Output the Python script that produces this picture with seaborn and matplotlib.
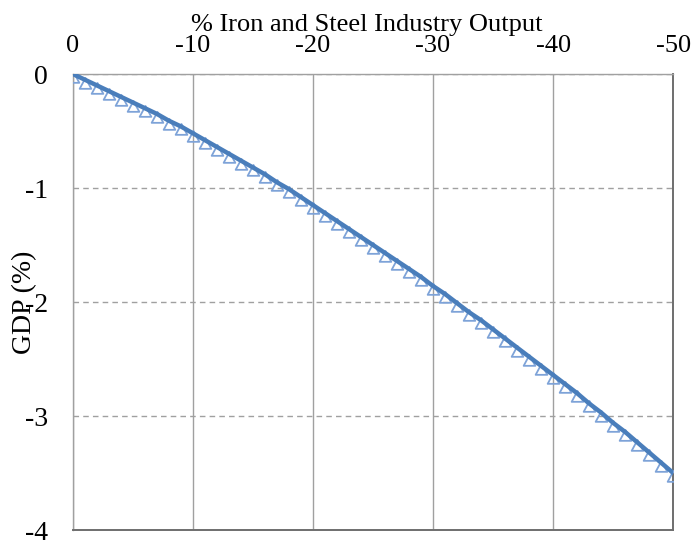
import matplotlib
matplotlib.use("Agg")
import matplotlib.pyplot as plt
from matplotlib.path import Path
import seaborn as sns
import pandas as pd

# Change in iron and steel industry output (%), one point per unit
output_change = [-i for i in range(51)]

# GDP change (%)
gdp_change = [
    0.00, -0.05, -0.10, -0.15, -0.20, -0.25, -0.30, -0.35, -0.41, -0.46,
    -0.52, -0.58, -0.64, -0.70, -0.76, -0.82, -0.88, -0.95, -1.01, -1.08,
    -1.15, -1.22, -1.29, -1.36, -1.43, -1.50, -1.57, -1.64, -1.71, -1.78,
    -1.86, -1.93, -2.01, -2.09, -2.16, -2.24, -2.32, -2.40, -2.48, -2.56,
    -2.64, -2.72, -2.80, -2.89, -2.97, -3.06, -3.14, -3.23, -3.32, -3.41,
    -3.50,
]

x_ticks = [0, -10, -20, -30, -40, -50]
y_ticks = [0, -1, -2, -3, -4]

df = pd.DataFrame({"output": output_change, "gdp": gdp_change})

sns.set_style("white", {"text.color": "black", "xtick.color": "black",
                        "ytick.color": "black", "axes.labelcolor": "black"})
plt.rcParams["font.family"] = ["Liberation Serif", "DejaVu Serif"]
plt.rcParams["axes.unicode_minus"] = False

fig = plt.figure(figsize=(6.94, 5.41), dpi=100)
ax = fig.add_axes([0.105, 0.0203, 0.865, 0.8429])

# triangle hanging just under the point, like the spreadsheet marker
tri = Path([(0, 0.3), (-0.7, -1.0), (0.7, -1.0), (0, 0.3)],
           [Path.MOVETO, Path.LINETO, Path.LINETO, Path.CLOSEPOLY])

# hollow triangle markers, then the thick line on top
sns.lineplot(data=df, x="output", y="gdp", ax=ax, linestyle="none",
             marker=tri, markersize=12, markerfacecolor="none",
             markeredgecolor="#7ea3d8", markeredgewidth=1.3, zorder=3)
sns.lineplot(data=df, x="output", y="gdp", ax=ax, color="#4a7ebb",
             linewidth=3.2, zorder=4)

ax.set_xlim(0, -50)
ax.set_ylim(-4, 0)
ax.set_xticks(x_ticks)
ax.set_yticks(y_ticks)
ax.set_xticklabels([str(v) for v in x_ticks])
ax.set_yticklabels([str(v) for v in y_ticks])

ax.xaxis.tick_top()
ax.xaxis.set_label_position("top")
ax.tick_params(axis="both", length=0, labelcolor="black")
ax.tick_params(axis="x", pad=12, labelsize=19)
ax.tick_params(axis="y", pad=18, labelsize=20)

ax.set_xlabel("% Iron and Steel Industry Output", fontsize=19, color="black")
ax.xaxis.set_label_coords(0.49, 1.094)
ax.set_ylabel("GDP (%)", fontsize=20, color="black")
ax.yaxis.set_label_coords(-0.06, 0.5)

ax.grid(axis="x", color="#a0a0a0", linewidth=1.0, linestyle="-")
ax.grid(axis="y", color="#a0a0a0", linewidth=1.0, linestyle=(0, (4, 3)))
ax.set_axisbelow(True)

for side in ["left", "top"]:
    ax.spines[side].set_color("#a0a0a0")
    ax.spines[side].set_linewidth(1.0)
for side in ["right", "bottom"]:
    ax.spines[side].set_color("#6e6e6e")
    ax.spines[side].set_linewidth(1.4)

fig.savefig("out.png", dpi=100)
